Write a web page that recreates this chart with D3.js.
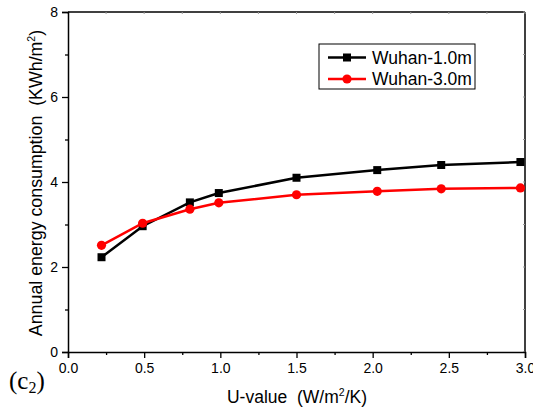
<!DOCTYPE html>
<html>
<head>
<meta charset="utf-8">
<script src="https://cdn.jsdelivr.net/npm/d3@7"></script>
<style>
  html, body { margin: 0; padding: 0; background: #fff; }
  svg { display: block; font-family: Arial, "Liberation Sans", sans-serif; }
  .title { white-space: pre; }
</style>
</head>
<body>
<svg id="chart" width="533" height="417"></svg>
<script>
// U-value of the envelope (W/m²/K)
const uValues = [0.22, 0.49, 0.80, 0.99, 1.50, 2.03, 2.45, 2.97];
// Annual energy consumption (KWh/m²) for each buried depth
const wuhan10 = [2.23, 2.96, 3.52, 3.74, 4.10, 4.28, 4.40, 4.47];
const wuhan30 = [2.51, 3.03, 3.36, 3.51, 3.70, 3.78, 3.84, 3.86];
const seriesNames = ["Wuhan-1.0m", "Wuhan-3.0m"];
const xTicks = [0.0, 0.5, 1.0, 1.5, 2.0, 2.5, 3.0];
const yTicks = [0, 2, 4, 6, 8];

const svg = d3.select("#chart");
const plotLeft = 68, plotRight = 525, plotTop = 12, plotBottom = 352;

const x = d3.scaleLinear().domain([0, 3]).range([plotLeft, plotRight]);
const y = d3.scaleLinear().domain([0, 8]).range([plotBottom, plotTop]);

const series = [
  { name: seriesNames[0], values: wuhan10, color: "#000000", shape: "square" },
  { name: seriesNames[1], values: wuhan30, color: "#ff0000", shape: "circle" }
];

// frame: top and right edges with faint inward ticks
const frame = svg.append("g");
frame.append("line").attr("x1", plotLeft).attr("x2", plotRight).attr("y1", plotTop).attr("y2", plotTop)
  .attr("stroke", "#000").attr("stroke-width", 1.5);
frame.append("line").attr("x1", plotRight).attr("x2", plotRight).attr("y1", plotTop).attr("y2", plotBottom)
  .attr("stroke", "#000").attr("stroke-width", 1.5);
d3.range(0, 3.01, 0.25).forEach(v => {
  frame.append("line").attr("x1", x(v)).attr("x2", x(v)).attr("y1", plotTop).attr("y2", plotTop + 2)
    .attr("stroke", "#999").attr("stroke-width", 1);
});
d3.range(0, 8.01, 1).forEach(v => {
  frame.append("line").attr("x1", plotRight).attr("x2", plotRight - 2).attr("y1", y(v)).attr("y2", y(v))
    .attr("stroke", "#999").attr("stroke-width", 1);
});

// bottom axis with major and minor ticks
svg.append("g").attr("transform", `translate(0,${plotBottom})`)
  .call(d3.axisBottom(x).tickValues(xTicks).tickFormat(d3.format(".1f")).tickSize(6).tickPadding(5));
svg.append("g").attr("transform", `translate(0,${plotBottom})`)
  .call(d3.axisBottom(x).tickValues(d3.range(0.25, 3, 0.5)).tickFormat("").tickSize(3))
  .select(".domain").remove();

// left axis with major and minor ticks
svg.append("g").attr("transform", `translate(${plotLeft},0)`)
  .call(d3.axisLeft(y).tickValues(yTicks).tickFormat(d3.format("d")).tickSize(6).tickPadding(4));
svg.append("g").attr("transform", `translate(${plotLeft},0)`)
  .call(d3.axisLeft(y).tickValues([1, 3, 5, 7]).tickFormat("").tickSize(3))
  .select(".domain").remove();

svg.selectAll(".domain").attr("stroke", "#000").attr("stroke-width", 1.5);
svg.selectAll(".tick line").attr("stroke", "#000").attr("stroke-width", 1.3);
svg.selectAll(".tick text").attr("font-size", 14).attr("fill", "#000")
  .attr("font-family", "Arial, 'Liberation Sans', sans-serif");

// axis titles
const xt = svg.append("text").attr("class", "title").attr("x", 297).attr("y", 403)
  .attr("text-anchor", "middle").attr("font-size", 17.5).attr("fill", "#000");
xt.append("tspan").text("U-value  (W/m");
xt.append("tspan").attr("font-size", 10.5).attr("dy", -7).text("2");
xt.append("tspan").attr("dy", 7).text("/K)");

const yt = svg.append("text").attr("class", "title").attr("transform", "translate(42,183) rotate(-90)")
  .attr("text-anchor", "middle").attr("font-size", 17.8).attr("fill", "#000");
yt.append("tspan").text("Annual energy consumption  (KWh/m");
yt.append("tspan").attr("font-size", 10.5).attr("dy", -7).text("2");
yt.append("tspan").attr("dy", 7).text(")");

// panel tag
const tag = svg.append("text").attr("x", 9).attr("y", 389)
  .attr("font-family", "'Liberation Serif', 'Times New Roman', serif")
  .attr("font-size", 25).attr("fill", "#000");
tag.append("tspan").text("(c");
tag.append("tspan").attr("font-size", 16).attr("dy", 4).text("2");
tag.append("tspan").attr("dy", -4).text(")");

// series lines and markers
const line = d3.line().x((d, i) => x(uValues[i])).y(d => y(d));
function drawMarker(g, shape, cx, cy, color) {
  if (shape === "square") {
    g.append("rect").attr("x", cx - 4).attr("y", cy - 4).attr("width", 8).attr("height", 8)
      .attr("fill", color);
  } else {
    g.append("circle").attr("cx", cx).attr("cy", cy).attr("r", 4.6).attr("fill", color);
  }
}
series.forEach(s => {
  const g = svg.append("g");
  g.append("path").datum(s.values).attr("d", line).attr("fill", "none")
    .attr("stroke", s.color).attr("stroke-width", 2.5);
  s.values.forEach((v, i) => drawMarker(g, s.shape, x(uValues[i]), y(v), s.color));
});

// legend
const lg = svg.append("g");
lg.append("rect").attr("x", 319).attr("y", 44).attr("width", 156).attr("height", 45)
  .attr("fill", "#fff").attr("stroke", "#000").attr("stroke-width", 1);
series.forEach((s, i) => {
  const cy = 57.5 + i * 21.5;
  lg.append("line").attr("x1", 328).attr("x2", 366).attr("y1", cy).attr("y2", cy)
    .attr("stroke", s.color).attr("stroke-width", 2.5);
  drawMarker(lg, s.shape, 347, cy, s.color);
  lg.append("text").attr("x", 372).attr("y", cy + 6.3).attr("font-size", 17.5)
    .attr("fill", "#000").text(s.name);
});
</script>
</body>
</html>
